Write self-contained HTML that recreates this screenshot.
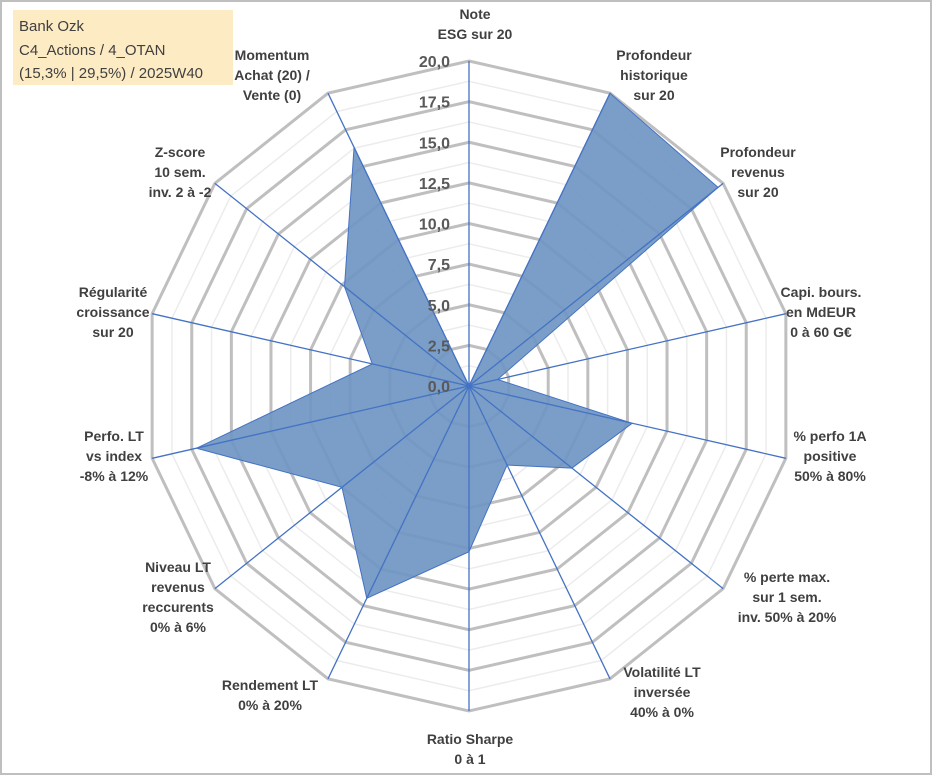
<!DOCTYPE html>
<html><head><meta charset="utf-8"><style>
body{margin:0;background:#fff;}
#wrap{position:relative;width:933px;height:776px;overflow:hidden;font-family:"Liberation Sans",sans-serif;}
svg text{font-family:"Liberation Sans",sans-serif;}
</style></head><body>
<div id="wrap">
<svg id="chart" width="933" height="776">
<rect x="1" y="1" width="930" height="773" fill="#fff" stroke="#bfbfbf" stroke-width="2"/>
<g id="grid"></g>
<g id="series"></g>
<g id="axes"></g>
<g id="ticks"></g>
<g id="labels"></g>
<rect x="13" y="10" width="220" height="75" fill="#fdebc4"/>
<text x="19" y="31" font-size="15" fill="#404040">Bank Ozk</text>
<text x="19" y="55" font-size="15" fill="#404040">C4_Actions / 4_OTAN</text>
<text x="19" y="78" font-size="15" fill="#404040">(15,3% | 29,5%) / 2025W40</text>
</svg>
</div>
<script>
const categories=[["Note","ESG sur 20"],["Profondeur","historique","sur 20"],["Profondeur","revenus","sur 20"],["Capi. bours.","en MdEUR","0 à 60 G€"],["% perfo 1A","positive","50% à 80%"],["% perte max.","sur 1 sem.","inv. 50% à 20%"],["Volatilité LT","inversée","40% à 0%"],["Ratio Sharpe","0 à 1"],["Rendement LT","0% à 20%"],["Niveau LT","revenus","reccurents","0% à 6%"],["Perfo. LT","vs index","-8% à 12%"],["Régularité","croissance","sur 20"],["Z-score","10 sem.","inv. 2 à -2"],["Momentum","Achat (20) /","Vente (0)"]];
const values=[0,20,19.6,1.8,10.3,8.1,5.4,10.2,14.5,10,17.2,6.1,9.8,16.3];
const tickLabels=["0,0","2,5","5,0","7,5","10,0","12,5","15,0","17,5","20,0"];
const maxVal=20;
const labelPos=[[475,19],[654,60],[758,157],[821,297],[830,441],[787,582],[662,677],[470,744],[270,690],[178,572],[114,441],[113,297],[180,157],[272,60]];
const cx=469,cy=386,R=325,N=categories.length,NS="http://www.w3.org/2000/svg";
function ang(i){return i*2*Math.PI/N;}
function pt(i,v){const r=v/maxVal*R;return [cx+r*Math.sin(ang(i)),cy-r*Math.cos(ang(i))];}
function mk(tag,attrs,parent){const e=document.createElementNS(NS,tag);for(const k in attrs)e.setAttribute(k,attrs[k]);parent.appendChild(e);return e;}
const grid=document.getElementById('grid');
for(let s=1;s<=16;s++){const v=s*1.25;const p=[];for(let i=0;i<N;i++)p.push(pt(i,v).join(','));
 const e=mk('polygon',{points:p.join(' '),fill:'none',stroke:s%2==0?'#bfbfbf':'#ececec','stroke-width':s%2==0?3:1.5},grid);
 
 }
const series=document.getElementById('series');
const poly=mk('polygon',{points:values.map((v,i)=>pt(i,v).join(',')).join(' '),fill:'#6f96c2','fill-opacity':'0.92',stroke:'#4472c4','stroke-width':1},series);


const axes=document.getElementById('axes'),labels=document.getElementById('labels');
for(let i=0;i<N;i++){const [x,y]=pt(i,maxVal);
 const l=mk('line',{x1:cx,y1:cy,x2:x,y2:y,stroke:'#4472c4','stroke-width':1.3},axes);
 
 
 const lines=categories[i];const [lx,ly]=labelPos[i];
 const t=mk('text',{x:lx,'text-anchor':'middle','font-size':14,'font-weight':'bold',fill:'#404040'},labels);
 
 
 lines.forEach((s,j)=>{const ts=mk('tspan',{x:lx,y:ly+j*20},t);ts.textContent=s;});}
const ticks=document.getElementById('ticks');
tickLabels.forEach((s,k)=>{const v=k*2.5;const y=cy-v/maxVal*R;
 const t=mk('text',{x:cx-19,y:y+6,'text-anchor':'end','font-size':16,'font-weight':'bold',fill:'#595959'},ticks);
 
 
 t.textContent=s;});
</script>
</body></html>
